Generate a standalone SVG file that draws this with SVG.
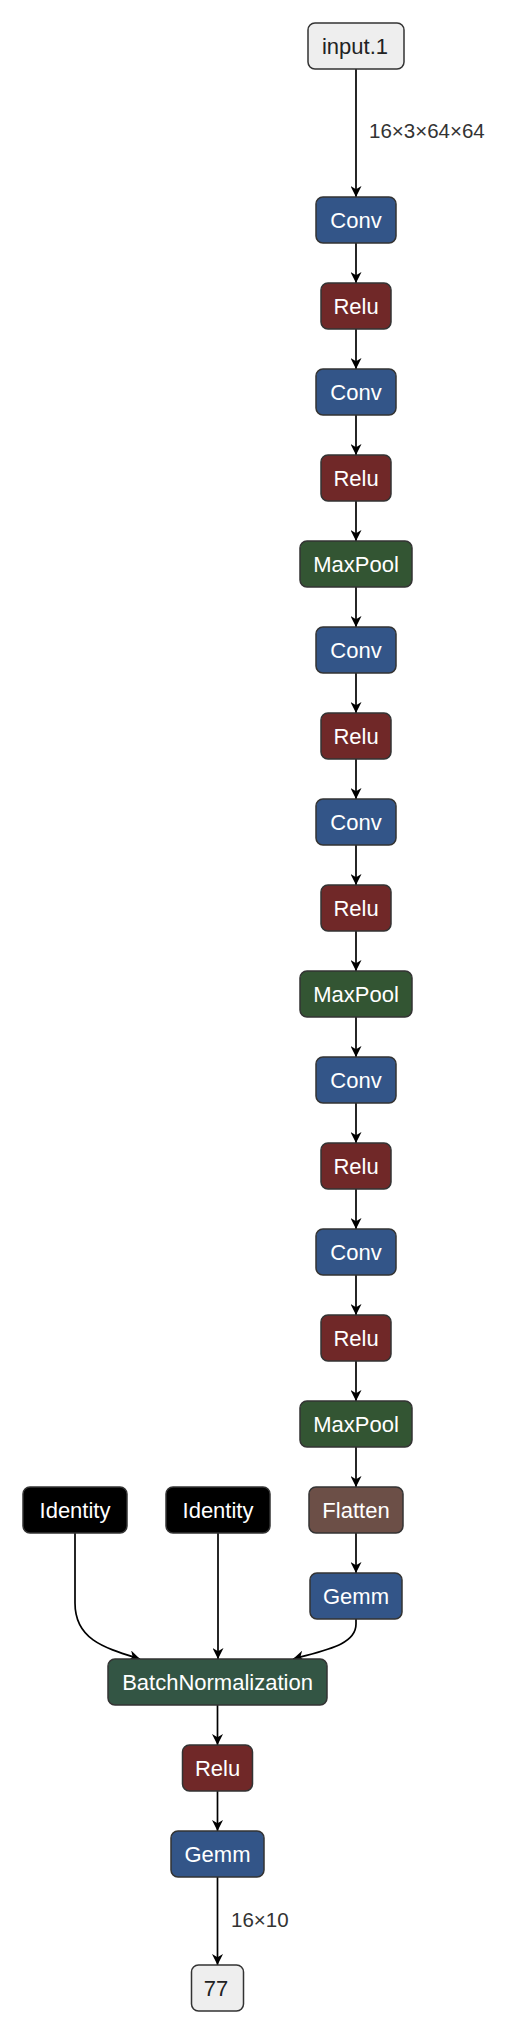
<svg xmlns="http://www.w3.org/2000/svg" width="510" height="2036" viewBox="0 0 510 2036">
<style>
.n rect{stroke:#333;stroke-width:1.5}
.n text{font-family:"Liberation Sans",Arial,sans-serif;font-size:22px;fill:#fff;text-anchor:middle}
.io rect{fill:#eeeeee}
.io text{fill:#222}
.conv rect{fill:#335588}
.relu rect{fill:#702828}
.pool rect{fill:#335533}
.norm rect{fill:#335544}
.shape rect{fill:#6c4f47}
.id rect{fill:#000}
.e path{fill:none;stroke:#000;stroke-width:1.7}
.lbl{font-family:"Liberation Sans",Arial,sans-serif;font-size:20.5px;fill:#333}
</style>
<defs>
<marker id="ah" viewBox="0 0 10 10" refX="10" refY="5" markerWidth="11" markerHeight="11" markerUnits="userSpaceOnUse" orient="auto">
<path d="M0,0 L10,5 L0,10 L3,5 z" fill="#000"/>
</marker>
</defs>
<g id="edges" class="e">
<path d="M356,69 V197" marker-end="url(#ah)"/>
<path d="M356,243 V283" marker-end="url(#ah)"/>
<path d="M356,329 V369" marker-end="url(#ah)"/>
<path d="M356,415 V455" marker-end="url(#ah)"/>
<path d="M356,501 V541" marker-end="url(#ah)"/>
<path d="M356,587 V627" marker-end="url(#ah)"/>
<path d="M356,673 V713" marker-end="url(#ah)"/>
<path d="M356,759 V799" marker-end="url(#ah)"/>
<path d="M356,845 V885" marker-end="url(#ah)"/>
<path d="M356,931 V971" marker-end="url(#ah)"/>
<path d="M356,1017 V1057" marker-end="url(#ah)"/>
<path d="M356,1103 V1143" marker-end="url(#ah)"/>
<path d="M356,1189 V1229" marker-end="url(#ah)"/>
<path d="M356,1275 V1315" marker-end="url(#ah)"/>
<path d="M356,1361 V1401" marker-end="url(#ah)"/>
<path d="M356,1447 V1487" marker-end="url(#ah)"/>
<path d="M356,1533 V1573" marker-end="url(#ah)"/>
<path d="M75,1533 V1603 C75,1640 105,1648 140,1659" marker-end="url(#ah)"/>
<path d="M218,1533 V1659" marker-end="url(#ah)"/>
<path d="M356,1619 V1624 C356,1645 325,1650 293,1659" marker-end="url(#ah)"/>
<path d="M217.5,1705 V1745" marker-end="url(#ah)"/>
<path d="M217.5,1791 V1831" marker-end="url(#ah)"/>
<path d="M217.5,1877 V1965" marker-end="url(#ah)"/>
<text class="lbl" x="369" y="138">16×3×64×64</text>
<text class="lbl" x="231" y="1927">16×10</text>
</g>
<g id="input.1" class="n io"><rect x="308" y="23" width="96" height="46" rx="7"/><text x="355" y="54">input.1</text></g>
<g id="conv1" class="n conv"><rect x="316" y="197" width="80" height="46" rx="7"/><text x="356" y="228">Conv</text></g>
<g id="relu1" class="n relu"><rect x="321" y="283" width="70" height="46" rx="7"/><text x="356" y="314">Relu</text></g>
<g id="conv2" class="n conv"><rect x="316" y="369" width="80" height="46" rx="7"/><text x="356" y="400">Conv</text></g>
<g id="relu2" class="n relu"><rect x="321" y="455" width="70" height="46" rx="7"/><text x="356" y="486">Relu</text></g>
<g id="pool1" class="n pool"><rect x="300" y="541" width="112" height="46" rx="7"/><text x="356" y="572">MaxPool</text></g>
<g id="conv3" class="n conv"><rect x="316" y="627" width="80" height="46" rx="7"/><text x="356" y="658">Conv</text></g>
<g id="relu3" class="n relu"><rect x="321" y="713" width="70" height="46" rx="7"/><text x="356" y="744">Relu</text></g>
<g id="conv4" class="n conv"><rect x="316" y="799" width="80" height="46" rx="7"/><text x="356" y="830">Conv</text></g>
<g id="relu4" class="n relu"><rect x="321" y="885" width="70" height="46" rx="7"/><text x="356" y="916">Relu</text></g>
<g id="pool2" class="n pool"><rect x="300" y="971" width="112" height="46" rx="7"/><text x="356" y="1002">MaxPool</text></g>
<g id="conv5" class="n conv"><rect x="316" y="1057" width="80" height="46" rx="7"/><text x="356" y="1088">Conv</text></g>
<g id="relu5" class="n relu"><rect x="321" y="1143" width="70" height="46" rx="7"/><text x="356" y="1174">Relu</text></g>
<g id="conv6" class="n conv"><rect x="316" y="1229" width="80" height="46" rx="7"/><text x="356" y="1260">Conv</text></g>
<g id="relu6" class="n relu"><rect x="321" y="1315" width="70" height="46" rx="7"/><text x="356" y="1346">Relu</text></g>
<g id="pool3" class="n pool"><rect x="300" y="1401" width="112" height="46" rx="7"/><text x="356" y="1432">MaxPool</text></g>
<g id="flatten" class="n shape"><rect x="309" y="1487" width="94" height="46" rx="7"/><text x="356" y="1518">Flatten</text></g>
<g id="gemm1" class="n conv"><rect x="310" y="1573" width="92" height="46" rx="7"/><text x="356" y="1604">Gemm</text></g>
<g id="identity1" class="n id"><rect x="23" y="1487" width="104" height="46" rx="7"/><text x="75" y="1518">Identity</text></g>
<g id="identity2" class="n id"><rect x="166" y="1487" width="104" height="46" rx="7"/><text x="218" y="1518">Identity</text></g>
<g id="batchnorm" class="n norm"><rect x="108" y="1659" width="219" height="46" rx="7"/><text x="217.5" y="1690">BatchNormalization</text></g>
<g id="relu7" class="n relu"><rect x="182.5" y="1745" width="70" height="46" rx="7"/><text x="217.5" y="1776">Relu</text></g>
<g id="gemm2" class="n conv"><rect x="171" y="1831" width="93" height="46" rx="7"/><text x="217.5" y="1862">Gemm</text></g>
<g id="out77" class="n io"><rect x="191.5" y="1965" width="52" height="46" rx="7"/><text x="216" y="1996">77</text></g>
</svg>
